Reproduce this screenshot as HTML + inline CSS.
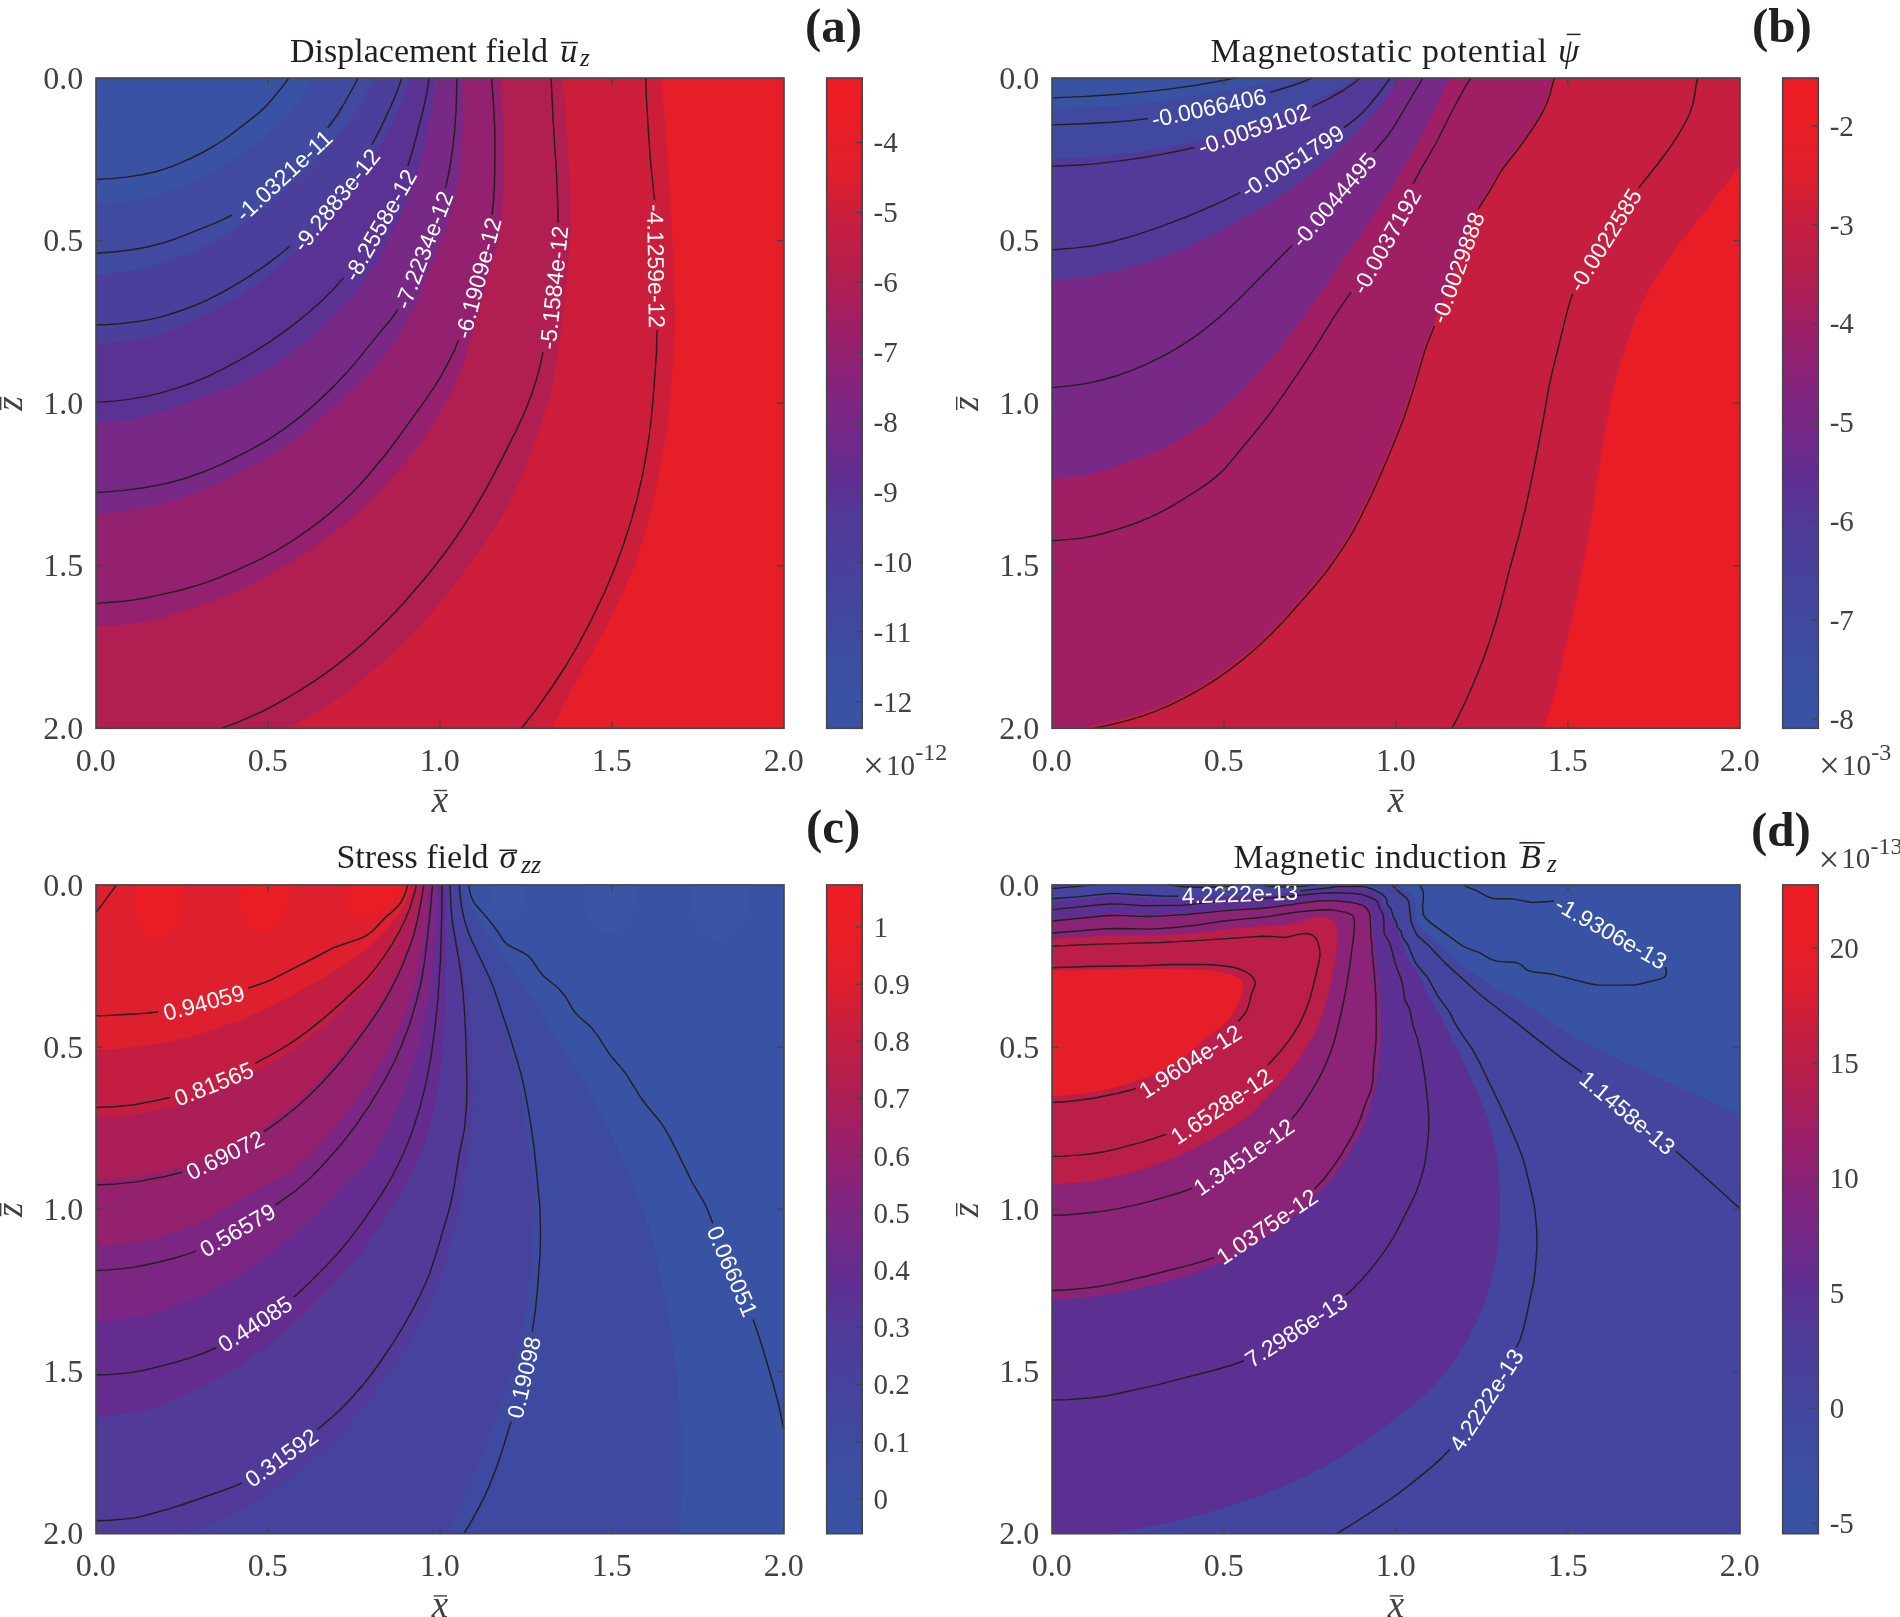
<!DOCTYPE html>
<html><head><meta charset="utf-8"><title>Contour figure</title>
<style>
html,body{margin:0;padding:0;background:#fff}
svg{display:block}
text{font-family:"Liberation Serif",serif;fill:#414042}
.tk{font-size:32px}
.cb{font-size:29px}
.cl text{font-family:"Liberation Sans",sans-serif;font-size:23px;fill:#fff;text-anchor:middle}
.ti{font-size:34px;fill:#231f20}
.it{font-style:italic}
.pl{font-size:49px;font-weight:bold;fill:#231f20}
</style></head><body>
<div style="will-change:transform;width:1900px;height:1617px">
<svg width="1900" height="1617" viewBox="0 0 1900 1617">
<defs><linearGradient id="cm" x1="0" y1="1" x2="0" y2="0"><stop offset="0.000" stop-color="#3953a4"/><stop offset="0.050" stop-color="#3952a4"/><stop offset="0.167" stop-color="#40489f"/><stop offset="0.320" stop-color="#513a98"/><stop offset="0.390" stop-color="#602d91"/><stop offset="0.470" stop-color="#782885"/><stop offset="0.500" stop-color="#7d2582"/><stop offset="0.620" stop-color="#9f1f65"/><stop offset="0.700" stop-color="#b41e4e"/><stop offset="0.780" stop-color="#c81e3e"/><stop offset="0.850" stop-color="#de1f2d"/><stop offset="0.930" stop-color="#ea1d25"/><stop offset="1.000" stop-color="#ed1c24"/></linearGradient></defs>
<rect width="1900" height="1617" fill="#fff"/>

<g id="pa">
<rect x="96.0" y="78.0" width="688.0" height="650.3" fill="#3953a4"/>
<path d="M203.5 80.0 205.8 78.0 784.0 78.0 784.0 728.3 96.0 728.3 96.0 127.9 110.0 126.6 126.0 123.7 138.0 120.2 152.0 114.4 166.0 107.5 180.0 99.0 192.0 90.2 203.5 80.0Z" fill="#3952a4" fill-rule="evenodd"/>
<path d="M311.5 80.0 312.5 78.0 784.0 78.0 784.0 728.3 96.0 728.3 96.0 204.6 116.0 203.0 132.0 200.9 146.0 198.0 162.0 193.7 176.0 188.9 190.0 183.0 206.0 175.5 222.0 166.9 236.0 158.3 250.0 148.5 266.0 135.9 280.0 123.3 290.0 112.8 298.0 102.7 305.0 92.0 311.5 80.0Z" fill="#3f4aa0" fill-rule="evenodd"/>
<path d="M373.6 78.0 784.0 78.0 784.0 728.3 96.0 728.3 96.0 274.5 118.0 272.8 134.0 270.6 152.0 266.5 170.0 261.1 190.0 253.0 210.0 243.4 226.0 234.6 244.0 223.0 266.0 206.2 289.5 186.0 310.4 166.0 325.5 150.0 339.1 134.0 352.5 116.0 358.9 106.0 365.8 94.0 371.0 84.0 373.6 78.0Z" fill="#4a409b" fill-rule="evenodd"/>
<path d="M409.5 78.0 784.0 78.0 784.0 728.3 96.0 728.3 96.0 344.5 122.0 342.3 142.0 338.9 164.0 333.0 174.0 329.6 186.0 324.7 198.0 319.3 210.0 313.4 234.0 299.6 244.0 293.2 258.0 283.4 268.0 275.9 282.0 264.5 304.3 244.1 325.7 222.1 339.5 206.1 345.9 198.1 357.6 182.0 374.4 156.0 383.6 140.0 388.8 130.0 393.5 120.0 401.1 102.0 407.2 86.0 409.5 78.0Z" fill="#5a3294" fill-rule="evenodd"/>
<path d="M435.4 78.0 784.0 78.0 784.0 728.3 96.0 728.3 96.0 422.7 112.0 421.7 126.0 420.2 136.0 418.5 148.0 415.4 180.0 405.4 200.0 398.5 224.0 389.3 250.0 378.2 260.0 373.3 270.0 367.6 280.0 361.1 290.0 353.9 302.0 344.4 314.0 334.0 338.0 311.1 348.5 300.1 358.0 289.1 366.0 278.6 374.0 266.6 382.0 252.7 390.0 237.3 400.0 216.4 408.0 198.1 413.4 184.0 417.5 172.0 420.9 160.0 424.0 147.4 431.7 110.0 434.3 90.0 435.4 78.0Z" fill="#782885" fill-rule="evenodd"/>
<path d="M463.0 78.0 784.0 78.0 784.0 728.3 96.0 728.3 96.0 513.9 118.0 511.9 138.0 509.1 154.0 506.0 170.0 501.6 190.0 495.1 208.0 488.1 226.0 479.7 250.0 467.3 268.0 456.9 284.0 446.7 298.0 436.8 312.0 425.7 334.9 406.2 350.3 392.1 369.9 372.1 384.2 356.1 392.2 346.1 400.0 334.8 407.4 322.1 414.3 308.1 422.0 290.1 440.2 244.1 446.8 226.1 452.6 208.1 455.7 196.1 457.7 186.0 459.2 176.0 460.5 162.0 462.5 126.0 463.0 78.0Z" fill="#93216f" fill-rule="evenodd"/>
<path d="M500.2 78.0 784.0 78.0 784.0 728.3 96.0 728.3 96.0 626.6 122.0 624.7 144.0 621.8 158.0 618.8 178.0 612.8 212.0 601.4 238.0 590.9 260.0 580.1 286.0 565.1 308.0 551.0 330.0 535.4 346.4 522.2 364.0 506.1 387.4 482.2 406.8 460.2 422.0 440.3 436.0 419.0 446.0 402.0 452.3 390.1 458.0 377.3 463.5 362.1 470.5 340.1 484.7 288.1 493.5 258.1 496.6 246.1 499.2 234.1 501.3 220.1 502.6 204.1 503.4 184.0 503.8 154.0 503.2 120.0 500.2 78.0Z" fill="#b01e52" fill-rule="evenodd"/>
<path d="M563.1 78.0 784.0 78.0 784.0 728.3 287.6 728.3 306.0 717.9 326.0 705.7 342.0 695.1 356.0 684.8 370.0 673.2 388.0 656.9 407.6 638.3 421.3 624.3 434.0 610.0 448.0 592.8 468.0 566.2 483.9 544.2 494.6 528.2 506.0 509.3 514.0 494.5 520.0 481.5 526.0 466.3 540.0 427.8 546.0 409.1 550.8 392.1 554.0 377.3 557.5 356.1 560.9 332.1 564.2 304.1 570.2 242.1 571.1 228.1 571.2 216.1 570.1 186.0 563.1 78.0Z" fill="#cc1e3b" fill-rule="evenodd"/>
<path d="M661.2 78.0 784.0 78.0 784.0 728.3 552.3 728.3 574.4 684.3 588.0 659.4 603.6 632.3 610.9 618.2 623.0 592.2 635.6 562.2 643.7 538.2 651.3 510.2 657.4 482.2 666.3 434.2 668.1 422.2 669.4 410.2 673.8 350.1 674.8 330.1 674.9 310.1 673.2 256.1 670.1 196.1 665.5 128.0 661.2 78.0Z" fill="#e61e28" fill-rule="evenodd"/>
<path d="M96.0 179.5 112.0 178.6 128.0 176.9 142.0 174.7 154.4 172.0 166.0 168.6 176.0 164.9 191.5 158.0 203.5 152.0 214.1 146.0 226.4 138.0 252.0 118.4 259.8 112.0 266.0 106.1 271.5 100.0 284.0 84.6 288.7 78.0M96.0 253.3 114.0 252.0 132.0 249.8 146.0 247.2 162.0 243.3 176.0 238.7 212.0 224.3 222.0 220.1 232.0 215.0M327.7 128.0 336.5 116.0 342.8 106.0 352.8 88.0 357.9 78.0M96.0 325.0 108.0 324.5 120.0 323.6 136.0 321.8 148.0 319.9 158.0 317.6 170.0 314.2 184.0 309.5 196.0 305.0 207.1 300.1 222.0 292.5 233.3 286.1 248.0 277.2 258.0 270.6 267.2 264.1 282.0 252.7 290.0 246.0M372.0 144.6 382.0 125.4 390.1 108.0 398.0 89.3 401.9 78.0M96.0 402.5 114.0 401.1 130.0 399.1 146.0 396.4 158.0 393.6 176.0 388.4 194.0 382.2 206.0 377.2 220.9 370.1 239.7 360.1 256.9 350.1 272.3 340.1 289.1 328.1 306.0 314.7 320.5 302.1 332.7 290.1 343.5 278.1M407.8 166.0 413.3 148.0 422.7 112.0 427.0 92.0 429.1 78.0M96.0 492.6 122.0 490.6 144.0 487.8 166.0 483.5 184.0 478.7 204.0 471.8 222.0 464.2 250.0 450.2 267.6 440.2 284.0 429.2 301.0 416.2 317.3 402.1 334.1 386.1 345.4 374.1 355.8 362.1 376.9 336.1 390.0 320.5 394.0 315.1 398.0 309.1M445.5 188.1 448.2 176.0 450.4 164.0 452.4 150.0 454.4 134.0 456.1 110.0 457.0 78.0M96.0 603.4 124.0 601.2 134.0 599.9 144.0 598.2 160.0 594.9 178.0 590.7 194.0 586.4 206.0 582.6 218.0 578.1 232.0 572.3 249.9 564.2 262.0 558.3 274.0 551.9 286.0 544.8 296.3 538.2 308.0 530.1 320.0 521.1 330.0 513.0 340.1 504.2 350.0 494.9 358.0 486.7 365.8 478.2 385.7 454.2 399.3 436.2 426.7 398.1 434.9 386.1 441.0 376.1 448.6 362.1 454.0 351.1 458.6 340.1M492.0 215.1 493.4 202.1 494.3 188.1 494.8 168.0 495.0 144.0 494.7 128.0 493.9 110.0 491.5 78.0M221.6 728.3 238.0 722.1 250.0 717.0 262.0 711.5 274.0 705.3 288.0 697.5 302.0 689.1 314.0 681.3 327.0 672.3 338.0 664.1 350.3 654.3 362.0 644.3 374.0 633.3 384.0 623.6 395.1 612.2 406.0 600.3 418.0 586.5 428.3 574.2 439.4 560.2 448.4 548.2 456.9 536.2 466.1 522.2 474.8 508.2 483.1 494.2 493.0 476.2 502.3 458.2 516.2 430.2 522.8 416.2 527.1 406.2 532.4 392.1 536.2 380.1 540.0 366.1 543.0 352.1M558.0 222.8 557.8 204.1 556.6 176.0 553.0 118.0 551.1 78.0M521.5 728.3 536.0 709.6 552.0 687.0 566.0 665.5 578.0 645.1 591.1 620.3 604.6 592.2 614.7 568.2 623.6 544.2 631.3 520.2 637.3 498.2 642.7 474.2 647.1 450.2 650.7 424.2 653.0 400.1 656.4 354.1 657.1 330.1M654.5 200.1 651.0 166.0 648.8 138.0 646.4 98.0 645.6 78.0" fill="none" stroke="#231f20" stroke-width="1.45" stroke-linejoin="round"/>
<g class="cl"><text transform="translate(283.8 175.5) rotate(-42.8)" x="0" y="0" dy="8.2">-1.0321e-11</text><text transform="translate(336.3 200.0) rotate(-51.1)" x="0" y="0" dy="8.2">-9.2883e-12</text><text transform="translate(380.0 225.0) rotate(-60.4)" x="0" y="0" dy="8.2">-8.2558e-12</text><text transform="translate(423.8 250.0) rotate(-68.8)" x="0" y="0" dy="8.2">-7.2234e-12</text><text transform="translate(478.0 278.0) rotate(-75.1)" x="0" y="0" dy="8.2">-6.1909e-12</text><text transform="translate(553.8 287.5) rotate(-84.0)" x="0" y="0" dy="8.2">-5.1584e-12</text><text transform="translate(656.2 266.0) rotate(89.2)" x="0" y="0" dy="8.2">-4.1259e-12</text></g>
<path d="M268.0 728.3v-7.0M268.0 78.0v7.0M96.0 240.6h7.0M784.0 240.6h-7.0M440.0 728.3v-7.0M440.0 78.0v7.0M96.0 403.1h7.0M784.0 403.1h-7.0M612.0 728.3v-7.0M612.0 78.0v7.0M96.0 565.7h7.0M784.0 565.7h-7.0" stroke="#434649" stroke-width="1.4" fill="none"/><rect x="96.0" y="78.0" width="688.0" height="650.3" fill="none" stroke="#434649" stroke-width="1.6"/><text class="tk" x="95.7" y="771.0" text-anchor="middle">0.0</text><text class="tk" x="83.2" y="88.7" text-anchor="end">0.0</text><text class="tk" x="267.7" y="771.0" text-anchor="middle">0.5</text><text class="tk" x="83.2" y="251.3" text-anchor="end">0.5</text><text class="tk" x="439.7" y="771.0" text-anchor="middle">1.0</text><text class="tk" x="83.2" y="413.8" text-anchor="end">1.0</text><text class="tk" x="611.7" y="771.0" text-anchor="middle">1.5</text><text class="tk" x="83.2" y="576.4" text-anchor="end">1.5</text><text class="tk" x="783.7" y="771.0" text-anchor="middle">2.0</text><text class="tk" x="83.2" y="739.0" text-anchor="end">2.0</text><text class="it" style="font-size:37px" x="440.0" y="812.0" text-anchor="middle">x</text><path d="M433.7 790.5h13.3" stroke="#414042" stroke-width="1.4"/><text class="it" style="font-size:37px" transform="translate(22.0 403.6) rotate(-90)" text-anchor="middle">z</text><path d="M0.7 410.1v-13.3" stroke="#414042" stroke-width="1.4"/>
</g>
<g id="pb">
<rect x="1052.0" y="78.0" width="688.0" height="650.3" fill="#3953a4"/>
<path d="M1052.0 80.0 1052.0 79.7 1080.7 78.0 1740.0 78.0 1740.0 728.3 1052.0 728.3 1052.0 80.0Z" fill="#3953a4" fill-rule="evenodd"/>
<path d="M1273.8 80.0 1280.3 78.0 1740.0 78.0 1740.0 728.3 1052.0 728.3 1052.0 109.3 1088.0 107.6 1118.0 105.6 1138.0 103.7 1166.0 100.3 1198.0 95.6 1234.0 89.4 1256.0 84.7 1273.8 80.0Z" fill="#40489f" fill-rule="evenodd"/>
<path d="M1352.5 80.0 1355.1 78.0 1740.0 78.0 1740.0 728.3 1052.0 728.3 1052.0 159.2 1096.0 156.9 1132.0 153.3 1148.0 150.9 1170.0 146.9 1190.0 142.7 1206.0 138.8 1226.0 133.0 1246.0 126.6 1276.0 116.4 1296.0 108.9 1314.0 101.3 1324.0 96.5 1342.0 86.7 1352.5 80.0Z" fill="#513a98" fill-rule="evenodd"/>
<path d="M1397.0 80.0 1398.2 78.0 1740.0 78.0 1740.0 728.3 1052.0 728.3 1052.0 280.1 1082.0 277.0 1098.0 274.6 1110.0 272.3 1130.0 267.1 1160.0 257.4 1184.0 248.1 1208.0 237.3 1226.0 227.7 1268.0 203.5 1284.0 193.7 1296.0 185.2 1333.9 154.0 1348.0 141.2 1362.0 126.7 1376.0 110.4 1388.0 94.5 1397.0 80.0Z" fill="#782885" fill-rule="evenodd"/>
<path d="M1449.5 78.0 1740.0 78.0 1740.0 728.3 1052.0 728.3 1052.0 478.9 1068.0 477.3 1080.0 475.6 1092.0 473.4 1102.0 470.9 1114.0 467.2 1134.0 460.2 1148.0 454.7 1160.0 449.4 1172.0 443.5 1184.0 436.9 1194.0 430.7 1204.0 423.9 1212.0 417.9 1222.0 409.7 1232.0 400.7 1242.0 391.0 1254.0 378.4 1266.0 364.6 1282.0 345.1 1298.0 324.5 1320.0 293.7 1372.0 218.2 1394.0 183.6 1418.0 142.4 1434.0 111.7 1449.5 78.0Z" fill="#a01f64" fill-rule="evenodd"/>
<path d="M1553.1 78.0 1740.0 78.0 1740.0 728.3 1081.8 728.3 1124.0 718.4 1140.0 713.7 1155.2 708.3 1170.0 701.9 1186.0 693.9 1200.0 686.0 1215.4 676.3 1229.6 666.3 1242.4 656.3 1256.3 644.3 1270.0 631.4 1286.0 614.6 1308.0 589.9 1320.0 575.6 1330.2 562.2 1338.6 550.2 1346.0 538.7 1352.2 528.2 1358.7 516.2 1374.0 484.1 1394.0 437.4 1400.9 420.2 1406.6 404.2 1423.8 348.1 1455.0 270.1 1459.9 256.1 1469.6 226.1 1475.2 212.1 1478.2 206.1 1488.3 190.1 1499.9 170.0 1524.0 138.2 1532.0 126.6 1538.6 116.0 1542.9 108.0 1546.4 100.0 1553.1 78.0Z" fill="#c61e3f" fill-rule="evenodd"/>
<path d="M1739.9 166.0 1740.0 728.3 1543.7 728.3 1551.0 706.3 1557.1 684.3 1570.8 624.3 1578.9 586.2 1586.9 544.2 1604.6 434.2 1611.6 396.1 1617.3 374.1 1631.3 330.1 1637.4 314.1 1644.5 298.1 1652.0 284.1 1659.4 272.1 1680.9 242.1 1739.9 166.0Z" fill="#e91d25" fill-rule="evenodd"/>
<path d="M1052.0 97.9 1082.0 96.6 1104.0 95.3 1132.0 93.1 1154.0 90.9 1174.0 88.4 1196.0 85.2 1216.0 81.8 1235.5 78.0M1052.0 124.9 1084.0 123.8 1112.0 122.3 1132.0 120.6 1148.0 118.5M1270.0 92.6 1294.0 85.0 1306.0 80.7 1312.2 78.0M1052.0 166.3 1074.0 165.3 1092.0 164.1 1120.0 160.9 1142.0 157.7 1160.0 154.6 1180.0 150.7 1194.0 147.5M1312.0 106.9 1326.0 100.2 1344.0 90.0 1354.0 83.2 1359.8 78.0M1052.0 249.7 1074.0 248.1 1094.0 245.7 1110.0 242.3 1134.0 235.6 1158.0 227.6 1186.0 217.0 1214.0 205.1 1228.0 198.6 1240.0 192.6M1344.0 127.7 1356.0 118.7 1364.0 111.1 1368.6 106.0 1380.1 92.0 1390.3 78.0M1052.0 387.6 1070.0 385.9 1084.0 383.9 1100.0 380.5 1116.0 376.0 1130.0 371.1 1146.0 364.3 1162.0 356.6 1176.0 348.8 1188.0 341.3 1200.0 332.9 1212.0 323.4 1224.0 313.2 1238.0 300.0 1292.0 245.5M1373.7 152.0 1386.0 137.7 1393.1 128.0 1422.9 78.0M1052.0 540.7 1076.0 538.9 1084.0 537.8 1092.0 536.3 1104.0 533.2 1118.0 529.1 1130.0 525.2 1140.0 521.5 1150.0 517.4 1158.0 513.7 1174.0 505.0 1200.0 488.6 1208.0 483.1 1216.0 476.9 1222.0 471.4 1228.0 464.9 1260.0 426.3 1272.0 410.7 1284.0 393.8 1302.0 367.4 1317.2 344.1 1336.0 313.8 1351.0 292.1M1413.1 184.0 1420.0 170.9 1435.6 144.0 1450.6 114.0 1460.0 96.3 1466.0 85.6 1470.8 78.0M1094.2 728.3 1112.8 724.3 1128.0 720.4 1142.0 716.1 1156.0 711.1 1170.0 705.1 1184.0 698.2 1198.0 690.5 1212.0 681.9 1226.0 672.4 1238.0 663.4 1250.0 653.5 1262.6 642.3 1272.9 632.3 1284.0 620.7 1314.5 586.2 1324.0 574.6 1331.8 564.2 1340.1 552.2 1347.9 540.2 1353.8 530.2 1359.2 520.2 1372.8 492.2 1380.8 474.2 1392.0 447.7 1403.8 418.2 1413.2 390.1 1424.4 352.1 1427.9 342.1 1434.4 326.1M1478.0 209.7 1481.2 204.1 1490.0 190.3 1500.5 172.0 1504.7 166.0 1517.4 150.0 1524.8 140.0 1533.0 128.0 1540.0 116.8 1544.7 108.0 1548.0 100.3 1550.0 94.0 1553.1 82.0 1554.6 78.0M1451.9 728.3 1458.3 716.3 1465.1 702.3 1472.3 686.3 1478.9 670.3 1484.3 656.3 1490.0 640.1 1495.1 624.3 1499.8 608.2 1509.3 570.2 1518.7 536.2 1525.6 508.2 1533.2 472.2 1542.4 424.2 1548.8 388.1 1551.7 374.1 1566.5 314.1 1569.8 302.1 1572.7 294.1M1638.5 188.1 1657.7 164.0 1668.0 150.3 1677.5 136.0 1685.6 122.0 1689.5 114.0 1692.3 106.0 1694.2 98.0 1696.3 84.0 1697.3 80.0 1698.2 78.0" fill="none" stroke="#231f20" stroke-width="1.45" stroke-linejoin="round"/>
<g class="cl"><text transform="translate(1208.8 107.5) rotate(-11.9)" x="0" y="0" dy="8.2">-0.0066406</text><text transform="translate(1253.8 128.8) rotate(-18.9)" x="0" y="0" dy="8.2">-0.0059102</text><text transform="translate(1292.5 161.2) rotate(-32.1)" x="0" y="0" dy="8.2">-0.0051799</text><text transform="translate(1333.8 200.0) rotate(-49.1)" x="0" y="0" dy="8.2">-0.0044495</text><text transform="translate(1386.2 241.2) rotate(-60.5)" x="0" y="0" dy="8.2">-0.0037192</text><text transform="translate(1457.5 267.5) rotate(-70.0)" x="0" y="0" dy="8.2">-0.0029888</text><text transform="translate(1605.0 240.0) rotate(-57.9)" x="0" y="0" dy="8.2">-0.0022585</text></g>
<path d="M1224.0 728.3v-7.0M1224.0 78.0v7.0M1052.0 240.6h7.0M1740.0 240.6h-7.0M1396.0 728.3v-7.0M1396.0 78.0v7.0M1052.0 403.1h7.0M1740.0 403.1h-7.0M1568.0 728.3v-7.0M1568.0 78.0v7.0M1052.0 565.7h7.0M1740.0 565.7h-7.0" stroke="#434649" stroke-width="1.4" fill="none"/><rect x="1052.0" y="78.0" width="688.0" height="650.3" fill="none" stroke="#434649" stroke-width="1.6"/><text class="tk" x="1051.7" y="771.0" text-anchor="middle">0.0</text><text class="tk" x="1039.2" y="88.7" text-anchor="end">0.0</text><text class="tk" x="1223.7" y="771.0" text-anchor="middle">0.5</text><text class="tk" x="1039.2" y="251.3" text-anchor="end">0.5</text><text class="tk" x="1395.7" y="771.0" text-anchor="middle">1.0</text><text class="tk" x="1039.2" y="413.8" text-anchor="end">1.0</text><text class="tk" x="1567.7" y="771.0" text-anchor="middle">1.5</text><text class="tk" x="1039.2" y="576.4" text-anchor="end">1.5</text><text class="tk" x="1739.7" y="771.0" text-anchor="middle">2.0</text><text class="tk" x="1039.2" y="739.0" text-anchor="end">2.0</text><text class="it" style="font-size:37px" x="1396.0" y="812.0" text-anchor="middle">x</text><path d="M1389.7 790.5h13.3" stroke="#414042" stroke-width="1.4"/><text class="it" style="font-size:37px" transform="translate(978.0 403.6) rotate(-90)" text-anchor="middle">z</text><path d="M956.7 410.1v-13.3" stroke="#414042" stroke-width="1.4"/>
</g>
<g id="pc">
<rect x="96.0" y="884.9" width="688.0" height="648.8" fill="#3953a4"/>
<path d="M96.0 884.9 466.1 884.9 466.6 890.9 468.0 897.5 470.0 903.3 474.0 911.0 494.8 945.0 507.1 961.0 541.4 1013.1 581.2 1077.1 592.8 1097.2 604.9 1121.2 626.3 1167.2 637.1 1193.3 645.2 1215.3 649.5 1229.3 654.2 1247.3 665.8 1299.4 670.4 1325.4 675.3 1363.5 680.1 1411.5 681.2 1429.6 681.2 1493.7 680.0 1533.7 96.0 1533.7 96.0 884.9Z" fill="#3e4aa0" fill-rule="evenodd"/>
<path d="M96.0 884.9 458.8 884.9 459.7 898.9 461.1 908.9 462.7 916.9 466.0 928.9 470.0 939.8 485.1 973.0 491.5 989.0 508.1 1043.1 516.8 1075.1 520.1 1091.2 523.4 1111.2 527.1 1137.2 531.4 1171.3 533.7 1185.3 533.6 1209.3 532.1 1255.4 529.3 1283.4 526.9 1301.4 524.6 1315.4 520.3 1335.5 515.5 1355.5 509.0 1377.5 499.2 1407.5 492.4 1427.6 485.8 1445.6 478.2 1463.6 446.4 1533.7 96.0 1533.7 96.0 884.9Z" fill="#47429c" fill-rule="evenodd"/>
<path d="M96.0 884.9 451.2 884.9 452.0 904.9 453.6 920.9 457.0 939.0 463.0 967.0 465.6 983.0 467.9 1003.0 470.1 1029.1 472.8 1077.1 473.1 1105.2 472.5 1121.2 471.5 1131.2 467.9 1153.2 464.6 1179.3 462.4 1193.3 458.9 1211.3 452.7 1237.3 446.6 1259.4 439.9 1279.4 430.4 1303.4 422.0 1321.3 413.0 1337.5 402.0 1355.0 388.0 1375.3 375.9 1391.5 362.0 1408.4 346.0 1426.2 330.0 1442.6 314.0 1457.6 300.0 1469.6 284.0 1482.0 268.0 1493.3 252.0 1503.4 236.0 1512.0 218.0 1520.5 200.6 1527.7 183.5 1533.7 96.0 1533.7 96.0 884.9Z" fill="#513a98" fill-rule="evenodd"/>
<path d="M96.0 884.9 444.6 884.9 446.1 961.0 444.9 1011.1 443.4 1037.1 441.5 1059.1 439.2 1079.1 436.5 1097.2 433.3 1113.2 429.2 1129.2 425.5 1141.2 421.3 1153.2 417.1 1163.2 413.1 1171.3 397.0 1199.3 387.3 1215.3 376.6 1231.3 364.9 1247.3 352.0 1263.6 338.0 1279.8 320.0 1299.1 304.0 1314.9 288.0 1329.2 272.0 1342.3 256.0 1354.2 238.0 1366.3 220.0 1377.1 202.0 1386.8 172.0 1400.7 156.0 1407.1 144.0 1410.5 128.0 1413.3 110.0 1415.6 96.0 1416.3 96.0 884.9Z" fill="#652c8f" fill-rule="evenodd"/>
<path d="M96.0 884.9 437.6 884.9 436.0 921.5 433.3 957.0 431.1 979.0 429.0 995.0 426.0 1012.3 422.6 1029.1 418.9 1045.1 414.0 1062.6 409.3 1077.1 403.4 1093.2 396.0 1110.8 388.4 1127.2 382.0 1139.4 375.0 1151.2 368.0 1161.1 362.7 1167.2 358.0 1172.0 342.3 1185.3 334.0 1195.3 326.0 1204.1 316.0 1214.2 302.0 1227.2 280.0 1245.9 264.0 1258.5 250.0 1268.6 238.0 1276.2 220.0 1286.3 202.0 1295.0 178.0 1304.8 160.0 1311.3 148.0 1314.7 132.0 1317.6 112.0 1320.3 96.0 1321.3 96.0 884.9Z" fill="#7c2683" fill-rule="evenodd"/>
<path d="M96.0 884.9 430.0 884.9 424.6 931.0 421.1 953.0 418.0 969.4 414.7 983.0 411.2 995.0 406.0 1010.0 400.0 1025.1 392.0 1042.3 385.3 1055.1 376.0 1070.7 366.0 1086.1 354.0 1103.1 342.0 1118.8 330.0 1133.5 318.0 1147.1 310.0 1155.4 302.0 1162.8 296.0 1167.7 288.0 1173.2 280.0 1177.8 264.6 1185.3 250.0 1194.2 218.0 1212.7 198.0 1223.0 188.0 1227.1 172.0 1232.9 160.0 1236.7 150.0 1239.3 138.0 1241.6 120.0 1244.3 108.0 1245.6 96.0 1246.3 96.0 884.9Z" fill="#94216e" fill-rule="evenodd"/>
<path d="M96.0 884.9 423.2 884.9 417.7 914.9 414.8 927.0 411.9 937.0 407.5 949.0 400.8 965.0 395.2 977.0 388.0 990.5 380.5 1003.0 374.0 1012.8 360.0 1032.0 348.0 1047.6 338.0 1059.7 326.0 1073.1 316.0 1083.5 304.0 1094.9 292.0 1105.2 280.0 1114.6 268.0 1123.2 250.0 1135.2 238.0 1142.7 228.0 1148.2 216.0 1154.0 204.0 1159.2 192.0 1163.7 182.0 1166.9 170.0 1169.8 156.0 1172.6 138.0 1175.8 128.0 1177.2 112.0 1178.5 96.0 1179.2 96.0 884.9Z" fill="#ac1e57" fill-rule="evenodd"/>
<path d="M96.0 884.9 417.2 884.9 416.0 890.9 412.0 905.4 408.0 916.7 404.0 926.2 398.0 938.2 392.0 948.8 386.0 958.5 378.0 970.1 372.0 977.8 366.0 984.6 342.0 1008.6 318.0 1030.4 308.0 1038.6 298.0 1046.1 286.0 1054.3 276.0 1060.5 238.0 1081.8 220.0 1090.7 200.0 1098.6 188.0 1102.6 174.0 1106.6 162.0 1109.5 146.0 1112.7 136.0 1114.4 124.0 1115.8 110.0 1116.9 96.0 1117.4 96.0 884.9Z" fill="#c31e42" fill-rule="evenodd"/>
<path d="M96.0 884.9 411.1 884.9 408.8 892.9 406.0 900.3 403.8 904.9 400.0 911.4 394.0 919.7 386.0 929.7 378.0 938.3 372.0 944.0 358.0 955.4 340.0 967.7 312.0 984.2 282.0 1000.8 262.0 1010.7 242.0 1019.2 212.0 1030.2 188.0 1037.5 168.0 1042.0 140.0 1046.2 116.0 1048.9 96.0 1050.0 96.0 884.9Z" fill="#dd1f2e" fill-rule="evenodd"/>
<path d="M137.4 884.9 186.0 884.9 183.0 890.9 181.7 894.9 181.8 902.9 182.5 912.9 182.0 915.8 180.9 918.9 178.0 923.9 174.0 928.8 166.0 936.7 162.0 939.4 160.0 940.1 156.0 940.7 152.0 939.9 150.0 939.0 147.2 937.0 144.0 933.6 139.9 927.0 136.9 918.9 135.7 912.9 135.0 906.9 135.3 896.9 136.0 890.9 137.4 884.9ZM241.9 886.9 242.4 884.9 293.6 884.9 290.0 893.2 288.0 899.2 286.3 904.9 284.7 912.9 283.3 916.9 280.0 922.3 276.0 926.5 274.0 928.1 270.0 930.5 266.0 931.8 262.0 932.3 258.0 931.9 254.0 930.8 250.4 929.0 248.0 927.0 245.1 922.9 243.2 918.9 241.1 912.9 240.3 908.9 239.8 902.9 239.9 898.9 240.6 892.9 241.9 886.9ZM349.8 884.9 400.8 884.9 400.0 888.1 398.0 892.1 392.0 900.7 387.8 904.9 382.0 909.7 374.0 914.0 370.0 915.4 364.0 916.2 358.0 915.0 354.1 912.9 348.9 908.9 345.7 904.9 344.8 900.9 345.2 896.9 349.8 884.9Z" fill="#ea1d25" fill-rule="evenodd"/>
<path d="M407.5 884.9 406.1 890.9 404.7 894.9 402.0 900.4 400.0 903.8 396.0 908.2 390.0 913.7 385.8 916.9 374.0 929.7 372.0 931.5 368.0 934.5 364.0 936.8 360.0 938.6 336.0 946.7 332.0 948.3 315.9 957.0 272.0 979.4 263.5 983.0 248.0 988.1M158.0 1011.9 146.0 1013.2 130.0 1014.3 100.0 1015.9 96.0 1015.7M96.0 912.6 113.6 888.9 116.1 884.9M416.3 884.9 415.1 890.9 410.0 907.7 406.0 917.8 400.0 930.3 392.0 944.3 384.0 956.6 376.0 967.6 368.0 977.2 360.0 985.4 338.0 1005.9 322.0 1019.6 308.0 1030.9 296.0 1039.6 282.0 1048.6 272.0 1054.4 255.4 1063.1M170.0 1097.5 154.0 1101.0 134.0 1104.7 114.0 1106.7 96.0 1107.5M423.8 884.9 421.2 900.9 417.2 920.9 414.0 933.6 410.0 946.0 402.5 965.0 397.2 977.0 388.0 994.7 379.5 1009.1 366.0 1028.6 350.0 1050.1 336.0 1067.2 322.0 1082.8 308.0 1096.8 294.0 1109.2 280.0 1120.3 264.0 1131.6M182.0 1172.3 166.0 1176.2 136.0 1181.9 116.0 1184.0 96.0 1185.0M432.5 884.9 430.3 910.9 426.6 945.0 424.0 965.5 420.5 985.0 416.0 1002.9 409.3 1025.1 402.0 1044.4 394.0 1062.5 384.0 1081.3 370.0 1104.7 356.0 1125.2 342.0 1143.4 324.5 1163.2 316.0 1172.2 308.0 1180.0 296.0 1190.3 275.3 1205.3M196.0 1251.1 186.0 1254.6 174.0 1258.2 158.0 1262.2 142.0 1265.7 134.0 1267.1 122.0 1268.6 108.0 1269.9 96.0 1270.5M442.0 884.9 441.8 914.9 440.4 961.0 437.9 999.0 434.6 1031.1 430.6 1059.1 425.1 1087.1 419.4 1109.2 411.6 1133.2 407.8 1143.2 403.5 1153.2 398.0 1164.8 391.5 1177.3 386.0 1187.0 380.0 1196.6 364.0 1219.9 350.0 1238.7 336.0 1255.5 326.0 1266.0 304.6 1287.4 293.6 1297.4M216.5 1347.5 204.0 1353.0 188.0 1358.6 174.0 1362.7 146.0 1369.8 136.0 1371.8 126.0 1373.1 110.0 1374.5 96.0 1375.0M450.0 884.9 450.8 904.9 452.0 918.9 453.5 929.0 460.5 969.0 463.1 993.0 464.7 1015.1 465.9 1039.1 467.0 1085.1 466.5 1105.2 464.7 1127.2 463.3 1135.2 459.4 1153.2 454.0 1187.3 450.8 1203.3 448.0 1213.7 436.0 1254.1 430.0 1272.4 426.0 1282.3 420.0 1295.3 412.0 1310.9 404.0 1325.1 394.0 1341.3 382.0 1359.5 372.0 1373.5 362.0 1386.1 352.0 1397.6 340.0 1410.0 332.0 1417.3 317.3 1429.6M242.0 1482.8 234.0 1486.4 226.0 1489.5 182.0 1504.7 168.0 1509.1 146.0 1515.3 136.0 1517.6 126.0 1518.9 110.0 1520.3 96.0 1520.8M459.5 884.9 459.7 890.9 460.5 898.9 462.0 909.3 464.0 918.2 468.0 931.4 472.0 941.0 489.1 977.0 493.3 987.0 510.0 1037.1 517.4 1061.1 521.3 1075.1 524.1 1087.1 527.2 1103.2 530.9 1125.2 534.5 1151.2 539.6 1203.3 540.1 1215.3 540.5 1235.3 540.1 1253.4 537.5 1289.4 535.5 1309.4 532.3 1331.5M511.1 1421.6 500.6 1455.6 495.7 1469.6 490.0 1484.1 484.0 1497.6 478.9 1507.7 471.2 1521.7 464.0 1533.7M468.9 884.9 469.6 890.9 470.6 894.9 472.0 898.6 474.0 902.4 476.0 905.3 482.9 912.9 494.0 926.3 504.0 941.2 506.0 943.3 508.2 945.0 512.0 947.2 524.0 953.0 529.3 957.0 532.8 961.0 538.0 969.2 542.5 975.0 546.0 978.3 556.9 987.0 561.0 991.0 565.7 997.0 572.0 1008.1 575.5 1013.1 580.0 1017.5 588.8 1025.1 592.6 1029.1 597.2 1035.1 608.7 1053.1 613.4 1059.1 620.6 1067.1 626.0 1073.9 642.0 1099.3 646.5 1105.2 659.8 1121.2 666.3 1131.2 670.7 1139.2 678.9 1155.2 692.0 1182.1 704.6 1203.3 707.3 1209.3 712.8 1223.3M753.1 1319.4 757.3 1331.5 763.1 1349.5 773.1 1383.5 778.8 1405.5 784.0 1429.9" fill="none" stroke="#231f20" stroke-width="1.45" stroke-linejoin="round"/>
<g class="cl"><text transform="translate(203.8 1002.5) rotate(-14.8)" x="0" y="0" dy="8.2">0.94059</text><text transform="translate(213.8 1083.8) rotate(-21.6)" x="0" y="0" dy="8.2">0.81565</text><text transform="translate(225.0 1155.0) rotate(-26.3)" x="0" y="0" dy="8.2">0.69072</text><text transform="translate(237.5 1230.0) rotate(-30.3)" x="0" y="0" dy="8.2">0.56579</text><text transform="translate(255.0 1323.8) rotate(-32.9)" x="0" y="0" dy="8.2">0.44085</text><text transform="translate(281.2 1457.5) rotate(-35.6)" x="0" y="0" dy="8.2">0.31592</text><text transform="translate(523.8 1377.5) rotate(-76.8)" x="0" y="0" dy="8.2">0.19098</text><text transform="translate(732.5 1271.2) rotate(67.0)" x="0" y="0" dy="8.2">0.066051</text></g>
<path d="M492 885.7L490 903L498 917L508 921L518 915L525 900L524 885.7ZM586 885.7L585 905L592 925L608 935L622 930L633 915L637 895L636 885.7ZM692 885.7L690 905L698 928L715 940L732 935L745 918L750 895L749 885.7Z" fill="#3a55a6"/>
<path d="M268.0 1533.7v-7.0M268.0 884.9v7.0M96.0 1047.1h7.0M784.0 1047.1h-7.0M440.0 1533.7v-7.0M440.0 884.9v7.0M96.0 1209.3h7.0M784.0 1209.3h-7.0M612.0 1533.7v-7.0M612.0 884.9v7.0M96.0 1371.5h7.0M784.0 1371.5h-7.0" stroke="#434649" stroke-width="1.4" fill="none"/><rect x="96.0" y="884.9" width="688.0" height="648.8" fill="none" stroke="#434649" stroke-width="1.6"/><text class="tk" x="95.7" y="1576.4" text-anchor="middle">0.0</text><text class="tk" x="83.2" y="895.6" text-anchor="end">0.0</text><text class="tk" x="267.7" y="1576.4" text-anchor="middle">0.5</text><text class="tk" x="83.2" y="1057.8" text-anchor="end">0.5</text><text class="tk" x="439.7" y="1576.4" text-anchor="middle">1.0</text><text class="tk" x="83.2" y="1220.0" text-anchor="end">1.0</text><text class="tk" x="611.7" y="1576.4" text-anchor="middle">1.5</text><text class="tk" x="83.2" y="1382.2" text-anchor="end">1.5</text><text class="tk" x="783.7" y="1576.4" text-anchor="middle">2.0</text><text class="tk" x="83.2" y="1544.4" text-anchor="end">2.0</text><text class="it" style="font-size:37px" x="440.0" y="1617.4" text-anchor="middle">x</text><path d="M433.7 1595.9h13.3" stroke="#414042" stroke-width="1.4"/><text class="it" style="font-size:37px" transform="translate(22.0 1209.8) rotate(-90)" text-anchor="middle">z</text><path d="M0.7 1216.3v-13.3" stroke="#414042" stroke-width="1.4"/>
</g>
<g id="pd">
<rect x="1052.0" y="884.9" width="688.0" height="648.8" fill="#3953a4"/>
<path d="M1052.0 884.9 1400.8 884.9 1406.0 890.3 1412.0 894.5 1414.2 896.9 1415.1 898.9 1415.3 900.9 1415.0 912.9 1415.5 918.9 1417.1 922.9 1420.0 927.3 1424.0 931.8 1436.0 941.0 1445.7 951.0 1454.0 958.5 1466.0 967.8 1480.4 977.0 1496.0 987.9 1514.1 997.0 1527.6 1005.0 1567.9 1033.1 1584.0 1042.5 1602.0 1051.6 1630.0 1064.8 1675.3 1085.1 1740.0 1115.0 1740.0 1533.7 1052.0 1533.7 1052.0 884.9Z" fill="#43459e" fill-rule="evenodd"/>
<path d="M1331.3 888.9 1338.0 888.1 1358.0 888.1 1364.0 888.8 1370.0 890.6 1376.0 893.3 1380.0 896.0 1382.3 898.9 1382.9 900.9 1382.9 904.9 1384.0 906.9 1386.3 908.9 1387.7 910.9 1390.4 916.9 1393.0 920.9 1394.0 922.9 1394.4 927.0 1395.3 929.0 1398.1 931.0 1399.0 933.0 1399.7 937.0 1403.6 945.0 1405.2 951.0 1409.1 961.0 1412.6 967.0 1420.4 977.0 1428.3 995.0 1439.1 1013.1 1452.0 1039.4 1460.4 1055.1 1481.9 1103.2 1488.2 1119.2 1494.0 1141.2 1495.9 1151.2 1497.4 1161.2 1498.8 1177.3 1499.6 1191.3 1500.0 1209.3 1499.7 1221.3 1497.3 1249.3 1495.8 1259.4 1493.8 1269.4 1490.4 1283.4 1487.6 1293.4 1483.3 1305.4 1478.4 1317.4 1472.9 1329.4 1468.0 1338.9 1461.8 1349.5 1455.4 1359.5 1448.1 1369.5 1442.0 1377.0 1434.0 1385.9 1426.0 1393.9 1416.0 1402.6 1404.0 1412.1 1380.0 1430.3 1362.0 1443.2 1348.0 1452.5 1336.0 1459.9 1322.0 1467.9 1308.0 1475.3 1294.0 1482.0 1280.0 1488.0 1264.0 1494.2 1244.0 1501.2 1222.0 1508.3 1202.0 1514.3 1162.0 1524.4 1136.0 1529.5 1118.0 1532.2 1104.6 1533.7 1052.0 1533.7 1052.0 901.4 1082.0 898.9 1104.0 896.5 1112.0 896.1 1120.0 896.2 1140.0 897.9 1152.0 898.4 1172.0 898.7 1188.0 898.3 1252.0 895.1 1292.0 892.5 1331.3 888.9Z" fill="#5c3093" fill-rule="evenodd"/>
<path d="M1308.5 900.9 1316.0 900.0 1324.0 899.6 1336.0 899.8 1348.0 900.8 1358.0 902.4 1364.0 904.5 1367.9 906.9 1369.8 908.9 1370.9 910.9 1372.1 914.9 1372.2 924.9 1372.8 937.0 1374.7 947.0 1379.2 995.0 1380.6 1017.1 1381.0 1027.1 1380.8 1039.1 1378.3 1067.1 1376.5 1081.1 1374.0 1093.2 1372.1 1099.2 1369.7 1109.2 1366.5 1119.2 1361.2 1131.2 1351.5 1149.2 1343.3 1163.2 1334.7 1175.3 1322.0 1190.0 1308.0 1204.0 1292.0 1218.0 1276.0 1230.4 1262.0 1240.0 1242.0 1252.3 1224.0 1261.7 1208.0 1268.4 1190.0 1274.7 1164.0 1282.4 1142.0 1287.8 1116.0 1293.1 1098.0 1296.1 1072.0 1298.8 1052.0 1300.0 1052.0 919.6 1108.0 914.0 1118.0 913.9 1148.0 915.1 1164.0 914.6 1186.0 913.2 1218.0 910.0 1262.0 907.0 1292.0 903.6 1308.5 900.9Z" fill="#8b2376" fill-rule="evenodd"/>
<path d="M1315.8 916.9 1320.0 916.3 1326.1 916.9 1331.3 918.9 1333.9 920.9 1335.2 922.9 1335.8 924.9 1337.4 931.0 1337.9 935.0 1337.6 943.0 1334.4 965.0 1328.9 991.0 1322.9 1013.1 1318.7 1025.1 1314.1 1035.1 1307.2 1047.1 1298.0 1061.1 1292.0 1069.2 1286.0 1076.5 1256.0 1109.0 1249.4 1115.2 1240.0 1122.3 1228.0 1130.1 1214.0 1138.3 1200.0 1145.8 1186.0 1152.6 1174.0 1157.8 1158.0 1164.0 1146.0 1168.1 1134.0 1171.7 1116.0 1176.4 1104.0 1179.1 1092.0 1181.0 1076.0 1182.8 1064.0 1183.7 1052.0 1184.2 1052.0 939.3 1102.0 936.1 1116.0 935.7 1152.0 935.7 1200.0 932.7 1236.0 928.2 1256.0 926.5 1282.0 925.2 1290.0 924.2 1306.0 919.3 1315.8 916.9Z" fill="#bb1e49" fill-rule="evenodd"/>
<path d="M1052.0 971.0 1056.0 970.6 1082.0 969.9 1132.0 969.1 1168.0 969.1 1204.0 970.0 1214.0 971.3 1226.0 973.5 1232.0 975.0 1236.0 976.4 1240.0 978.7 1241.9 981.0 1242.6 983.0 1242.8 987.0 1240.5 997.0 1237.6 1005.0 1233.1 1013.1 1230.2 1017.1 1226.6 1021.1 1220.0 1027.4 1207.7 1037.1 1186.8 1055.1 1178.2 1061.1 1170.0 1066.1 1158.0 1072.5 1146.0 1077.8 1132.0 1082.6 1114.0 1087.7 1100.0 1090.8 1088.0 1092.8 1068.0 1095.2 1052.0 1096.3 1052.0 971.0Z" fill="#e61e28" fill-rule="evenodd"/>
<path d="M1420.0 884.9 1422.2 888.9 1422.9 890.9 1423.5 894.9 1423.4 898.9 1422.6 904.9 1423.0 912.9 1424.0 915.9 1426.2 918.9 1432.0 923.9 1462.0 945.6 1466.0 947.6 1480.0 952.9 1490.0 958.8 1492.0 959.6 1496.0 960.9 1500.0 961.6 1514.0 962.3 1518.0 963.0 1521.4 965.0 1526.0 969.1 1528.0 970.3 1530.0 971.1 1536.0 972.3 1548.0 973.5 1554.0 974.6 1590.0 983.8 1596.0 984.8 1600.0 985.1 1630.0 985.0 1636.0 984.7 1640.0 984.0 1660.0 979.1 1664.0 977.3 1666.0 975.0 1666.4 973.0 1666.4 971.0 1665.5 967.0M1554.0 901.3 1532.0 902.5 1514.0 899.1 1508.0 898.7 1496.0 898.8 1492.0 898.3 1488.0 896.8 1476.0 890.4 1466.6 886.9 1464.1 884.9M1168.2 884.9 1184.0 886.7 1204.0 887.5 1222.0 886.7 1228.0 886.0 1233.1 884.9M1262.7 884.9 1266.0 885.8 1270.0 886.4 1282.0 886.9 1300.0 886.4 1314.4 884.9M1391.3 884.9 1394.0 887.0 1400.0 892.9 1406.0 897.6 1407.3 898.9 1408.4 900.9 1409.0 902.9 1410.9 920.9 1414.0 929.3 1417.0 935.0 1418.9 937.0 1428.0 945.0 1446.0 963.9 1476.0 991.0 1488.0 1001.0 1514.4 1021.1 1530.0 1033.6 1562.0 1058.4 1582.0 1072.4M1676.0 1151.2 1714.2 1185.3 1740.0 1208.8M1052.0 888.6 1095.1 884.9M1052.0 898.8 1080.0 896.6 1102.0 894.2 1112.0 893.4 1120.0 893.6 1140.0 895.0 1162.0 896.0 1178.0 896.3M1300.0 890.9 1330.0 887.8 1338.0 886.3 1342.0 886.6 1360.0 886.3 1366.0 887.1 1374.0 889.8 1379.8 892.9 1382.7 894.9 1384.9 896.9 1386.4 898.9 1387.1 900.9 1386.9 902.9 1387.5 904.9 1391.0 908.9 1393.3 916.9 1395.7 920.9 1396.4 922.9 1397.0 927.0 1400.8 931.0 1401.5 933.0 1402.3 937.0 1407.9 945.0 1413.7 959.0 1415.7 963.0 1418.0 966.2 1425.5 975.0 1428.5 979.0 1438.0 996.4 1448.9 1011.1 1451.1 1015.1 1454.0 1021.4 1457.3 1027.1 1462.0 1034.4 1472.3 1049.1 1479.8 1063.1 1499.2 1103.2 1509.3 1125.2 1517.1 1143.2 1521.0 1153.2 1523.7 1161.2 1527.4 1175.3 1533.5 1201.3 1535.0 1211.3 1536.5 1227.3 1537.0 1239.3 1536.7 1251.4 1535.1 1271.4 1533.8 1281.4 1526.2 1317.4 1523.3 1329.4 1520.1 1339.5 1516.3 1347.5M1450.0 1449.2 1442.0 1457.6 1432.0 1466.6 1416.0 1479.9 1400.0 1492.3 1390.0 1499.5 1378.0 1507.6 1354.0 1523.0 1336.8 1533.7M1052.0 909.6 1100.0 904.7 1110.0 904.0 1120.0 904.1 1144.0 905.8 1182.0 905.3 1192.0 904.4 1202.0 903.0 1256.0 899.2 1282.0 896.8 1296.0 895.8 1302.0 894.9 1306.0 894.7 1322.0 893.1 1332.0 892.7 1352.0 893.2 1362.0 894.5 1368.0 896.5 1374.0 899.2 1376.0 900.5 1378.0 902.7 1379.9 908.9 1382.5 912.9 1383.1 914.9 1383.9 920.9 1384.1 933.0 1385.0 935.0 1388.6 941.0 1390.4 945.0 1395.1 963.0 1401.1 979.0 1402.6 985.0 1404.7 999.0 1406.0 1002.1 1409.6 1009.1 1413.4 1027.1 1417.6 1039.1 1419.4 1047.1 1421.9 1059.1 1424.9 1077.1 1427.9 1103.2 1428.9 1119.2 1428.8 1127.2 1428.2 1137.2 1426.5 1153.2 1424.9 1163.2 1423.1 1171.3 1420.0 1181.3 1416.5 1191.3 1414.0 1197.3 1398.0 1228.8 1393.4 1237.3 1388.5 1245.3 1383.0 1253.4 1377.0 1261.4 1368.0 1272.4 1360.0 1281.6 1352.4 1289.4 1345.8 1295.4M1244.0 1360.7 1230.4 1365.5 1214.0 1370.2 1156.0 1385.1 1116.0 1394.0 1104.0 1396.3 1092.0 1397.8 1068.0 1399.6 1052.0 1400.0M1052.0 921.0 1108.0 915.5 1118.0 915.4 1138.0 916.3 1148.0 916.5 1164.0 915.9 1186.0 914.5 1226.0 910.6 1262.0 908.2 1272.0 907.2 1286.0 905.3 1292.0 904.8 1296.0 903.9 1316.0 901.2 1326.0 900.6 1336.0 900.9 1346.0 901.7 1356.0 903.4 1362.0 905.2 1365.0 906.9 1367.2 908.9 1369.4 912.9 1370.3 916.9 1370.3 922.9 1371.1 939.0 1372.0 945.0 1372.3 953.0 1374.1 971.0 1375.8 995.0 1376.3 1017.1 1376.1 1039.1 1375.2 1051.1 1373.7 1063.1 1372.8 1081.1 1370.7 1091.2 1366.4 1101.2 1360.2 1119.2 1356.8 1127.2 1351.6 1137.2 1342.0 1153.7 1334.0 1165.6 1323.6 1179.3 1314.4 1189.3M1214.1 1257.4 1204.0 1261.0 1192.0 1264.4 1146.0 1276.2 1110.0 1284.4 1100.0 1286.3 1086.0 1288.1 1068.0 1289.7 1052.0 1290.5M1052.0 933.0 1106.0 928.7 1118.0 928.5 1150.0 929.1 1172.0 927.7 1196.0 925.2 1222.0 921.2 1242.0 919.1 1258.0 917.8 1268.0 916.6 1292.0 912.7 1302.0 911.5 1320.0 910.0 1330.0 909.8 1334.0 910.1 1346.0 912.4 1351.7 914.9 1353.4 916.9 1354.0 918.4 1354.5 922.9 1353.8 935.0 1350.0 964.6 1346.7 985.0 1343.3 1003.0 1338.0 1026.8 1334.0 1042.0 1331.0 1051.1 1327.1 1061.1 1322.7 1071.1 1318.5 1079.1 1312.0 1090.2 1302.0 1105.9 1296.6 1113.2 1291.2 1119.2M1192.0 1188.3 1180.0 1192.7 1150.0 1201.4 1138.0 1204.4 1118.0 1208.6 1104.0 1211.1 1090.0 1212.8 1068.0 1214.7 1052.0 1215.4M1052.0 946.2 1092.0 944.4 1160.0 942.5 1200.0 940.4 1262.0 936.2 1272.0 936.5 1284.0 937.5 1288.0 937.0 1296.0 934.9 1304.0 933.5 1308.0 933.7 1312.1 935.0 1314.8 937.0 1316.3 939.0 1317.3 941.0 1318.6 945.0 1319.5 949.0 1320.0 955.0 1319.1 961.0 1313.5 985.0 1310.9 995.0 1308.4 1003.0 1305.3 1011.1 1301.8 1019.1 1298.8 1025.1 1293.9 1033.1 1288.4 1041.1 1282.0 1049.4 1275.4 1057.1 1267.9 1065.1M1166.0 1134.2 1154.0 1138.4 1142.0 1142.1 1116.0 1149.1 1104.0 1151.8 1092.0 1153.7 1078.0 1155.1 1064.0 1156.1 1052.0 1156.4M1052.0 967.7 1088.0 966.5 1142.0 965.8 1172.0 964.5 1200.0 964.5 1212.0 964.8 1222.0 965.7 1232.0 967.0 1238.0 968.5 1246.0 971.8 1250.6 975.0 1252.5 977.0 1254.0 979.0 1254.8 981.0 1255.2 983.0 1255.0 985.0 1254.4 987.0 1251.7 993.0 1249.3 1003.0 1247.4 1009.1 1246.0 1011.9 1244.0 1014.8 1238.0 1021.6M1136.0 1088.4 1130.0 1090.3 1120.0 1092.7 1094.0 1098.2 1070.0 1101.2 1052.0 1102.5" fill="none" stroke="#231f20" stroke-width="1.45" stroke-linejoin="round"/>
<g class="cl"><text transform="translate(1611.2 932.5) rotate(29.5)" x="0" y="0" dy="8.2">-1.9306e-13</text><text transform="translate(1627.5 1112.5) rotate(40.0)" x="0" y="0" dy="8.2">1.1458e-13</text><text transform="translate(1239.8 893.5) rotate(-2.0)" x="0" y="0" dy="8.2">4.2222e-13</text><text transform="translate(1486.2 1400.0) rotate(-57.2)" x="0" y="0" dy="8.2">4.2222e-13</text><text transform="translate(1296.2 1330.0) rotate(-32.9)" x="0" y="0" dy="8.2">7.2986e-13</text><text transform="translate(1266.8 1226.3) rotate(-34.1)" x="0" y="0" dy="8.2">1.0375e-12</text><text transform="translate(1243.7 1156.8) rotate(-34.8)" x="0" y="0" dy="8.2">1.3451e-12</text><text transform="translate(1221.2 1106.2) rotate(-34.1)" x="0" y="0" dy="8.2">1.6528e-12</text><text transform="translate(1190.0 1061.2) rotate(-32.6)" x="0" y="0" dy="8.2">1.9604e-12</text></g>
<path d="M1224.0 1533.7v-7.0M1224.0 884.9v7.0M1052.0 1047.1h7.0M1740.0 1047.1h-7.0M1396.0 1533.7v-7.0M1396.0 884.9v7.0M1052.0 1209.3h7.0M1740.0 1209.3h-7.0M1568.0 1533.7v-7.0M1568.0 884.9v7.0M1052.0 1371.5h7.0M1740.0 1371.5h-7.0" stroke="#434649" stroke-width="1.4" fill="none"/><rect x="1052.0" y="884.9" width="688.0" height="648.8" fill="none" stroke="#434649" stroke-width="1.6"/><text class="tk" x="1051.7" y="1576.4" text-anchor="middle">0.0</text><text class="tk" x="1039.2" y="895.6" text-anchor="end">0.0</text><text class="tk" x="1223.7" y="1576.4" text-anchor="middle">0.5</text><text class="tk" x="1039.2" y="1057.8" text-anchor="end">0.5</text><text class="tk" x="1395.7" y="1576.4" text-anchor="middle">1.0</text><text class="tk" x="1039.2" y="1220.0" text-anchor="end">1.0</text><text class="tk" x="1567.7" y="1576.4" text-anchor="middle">1.5</text><text class="tk" x="1039.2" y="1382.2" text-anchor="end">1.5</text><text class="tk" x="1739.7" y="1576.4" text-anchor="middle">2.0</text><text class="tk" x="1039.2" y="1544.4" text-anchor="end">2.0</text><text class="it" style="font-size:37px" x="1396.0" y="1617.4" text-anchor="middle">x</text><path d="M1389.7 1595.9h13.3" stroke="#414042" stroke-width="1.4"/><text class="it" style="font-size:37px" transform="translate(978.0 1209.8) rotate(-90)" text-anchor="middle">z</text><path d="M956.7 1216.3v-13.3" stroke="#414042" stroke-width="1.4"/>
</g>
<rect x="826.7" y="78.0" width="35.5" height="650.3" fill="url(#cm)" stroke="#434649" stroke-width="1.6"/><text class="cb" x="873.6" y="711.6">-12</text><text class="cb" x="873.6" y="641.7">-11</text><text class="cb" x="873.6" y="571.8">-10</text><text class="cb" x="873.6" y="501.9">-9</text><text class="cb" x="873.6" y="432.0">-8</text><text class="cb" x="873.6" y="362.1">-7</text><text class="cb" x="873.6" y="292.2">-6</text><text class="cb" x="873.6" y="222.3">-5</text><text class="cb" x="873.6" y="152.4">-4</text><path d="M862.2 701.8h-7M862.2 631.9h-7M862.2 562.0h-7M862.2 492.1h-7M862.2 422.2h-7M862.2 352.3h-7M862.2 282.4h-7M862.2 212.5h-7M862.2 142.6h-7" stroke="#434649" stroke-width="1.4" fill="none"/>
<rect x="1782.7" y="78.0" width="35.6" height="650.3" fill="url(#cm)" stroke="#434649" stroke-width="1.6"/><text class="cb" x="1829.7" y="728.6">-8</text><text class="cb" x="1829.7" y="629.8">-7</text><text class="cb" x="1829.7" y="531.0">-6</text><text class="cb" x="1829.7" y="432.2">-5</text><text class="cb" x="1829.7" y="333.4">-4</text><text class="cb" x="1829.7" y="234.6">-3</text><text class="cb" x="1829.7" y="135.8">-2</text><path d="M1818.3 718.8h-7M1818.3 620.0h-7M1818.3 521.2h-7M1818.3 422.4h-7M1818.3 323.6h-7M1818.3 224.8h-7M1818.3 126.0h-7" stroke="#434649" stroke-width="1.4" fill="none"/>
<rect x="826.7" y="884.9" width="35.5" height="648.8" fill="url(#cm)" stroke="#434649" stroke-width="1.6"/><text class="cb" x="873.6" y="1508.7">0</text><text class="cb" x="873.6" y="1451.5">0.1</text><text class="cb" x="873.6" y="1394.3">0.2</text><text class="cb" x="873.6" y="1337.1">0.3</text><text class="cb" x="873.6" y="1279.9">0.4</text><text class="cb" x="873.6" y="1222.7">0.5</text><text class="cb" x="873.6" y="1165.5">0.6</text><text class="cb" x="873.6" y="1108.3">0.7</text><text class="cb" x="873.6" y="1051.1">0.8</text><text class="cb" x="873.6" y="993.9">0.9</text><text class="cb" x="873.6" y="936.7">1</text><path d="M862.2 1498.9h-7M862.2 1441.7h-7M862.2 1384.5h-7M862.2 1327.3h-7M862.2 1270.1h-7M862.2 1212.9h-7M862.2 1155.7h-7M862.2 1098.5h-7M862.2 1041.3h-7M862.2 984.1h-7M862.2 926.9h-7" stroke="#434649" stroke-width="1.4" fill="none"/>
<rect x="1782.7" y="884.9" width="35.6" height="648.8" fill="url(#cm)" stroke="#434649" stroke-width="1.6"/><text class="cb" x="1829.7" y="1533.2">-5</text><text class="cb" x="1829.7" y="1418.1">0</text><text class="cb" x="1829.7" y="1303.0">5</text><text class="cb" x="1829.7" y="1187.9">10</text><text class="cb" x="1829.7" y="1072.8">15</text><text class="cb" x="1829.7" y="957.7">20</text><path d="M1818.3 1523.4h-7M1818.3 1408.3h-7M1818.3 1293.2h-7M1818.3 1178.1h-7M1818.3 1063.0h-7M1818.3 947.9h-7" stroke="#434649" stroke-width="1.4" fill="none"/>
<text class="cb" style="font-size:37px" x="863.0" y="777.8">×</text><text class="cb" x="885.9" y="774.6">10</text><text class="cb" style="font-size:24px" x="915.2" y="760.3">-12</text>
<text class="cb" style="font-size:37px" x="1819.0" y="777.8">×</text><text class="cb" x="1841.9" y="774.6">10</text><text class="cb" style="font-size:24px" x="1871.2" y="760.3">-3</text>
<text class="cb" style="font-size:37px" x="1818.4" y="871.5">×</text><text class="cb" x="1841.3" y="868.3">10</text><text class="cb" style="font-size:24px" x="1870.6" y="854.0">-13</text>
<text class="ti" x="290.0" y="62.3" textLength="257.9" lengthAdjust="spacing">Displacement field</text>
<text class="ti it" x="560.3" y="62.3" style="font-size:34px">u</text><path d="M561.0 42.6H578.0" stroke="#231f20" stroke-width="1.5"/><text class="ti it" x="580.0" y="65.8" style="font-size:25px">z</text>
<text class="ti" x="1210.6" y="62.3" textLength="336.3" lengthAdjust="spacing">Magnetostatic potential</text>
<text class="ti it" x="1558.0" y="62.3" style="font-size:34px">ψ</text><path d="M1566.7 34.4H1580.5" stroke="#231f20" stroke-width="1.5"/>
<text class="ti" x="336.4" y="868.4" textLength="152.2" lengthAdjust="spacing">Stress field</text>
<text class="ti it" x="499.5" y="868.4" style="font-size:34px">σ</text><path d="M499.4 850.3H516.5" stroke="#231f20" stroke-width="1.5"/><text class="ti it" x="521.0" y="873.0" style="font-size:26px">zz</text>
<text class="ti" x="1233.6" y="868.4" textLength="273.4" lengthAdjust="spacing">Magnetic induction</text>
<text class="ti it" x="1520.0" y="868.4" style="font-size:34px">B</text><path d="M1519.4 842.8H1544.8" stroke="#231f20" stroke-width="1.5"/><text class="ti it" x="1547.0" y="872.2" style="font-size:25px">z</text>
<text class="pl" x="805" y="42">(a)</text>
<text class="pl" x="1752" y="42">(b)</text>
<text class="pl" x="806" y="843">(c)</text>
<text class="pl" x="1751" y="846">(d)</text>
</svg></div></body></html>
